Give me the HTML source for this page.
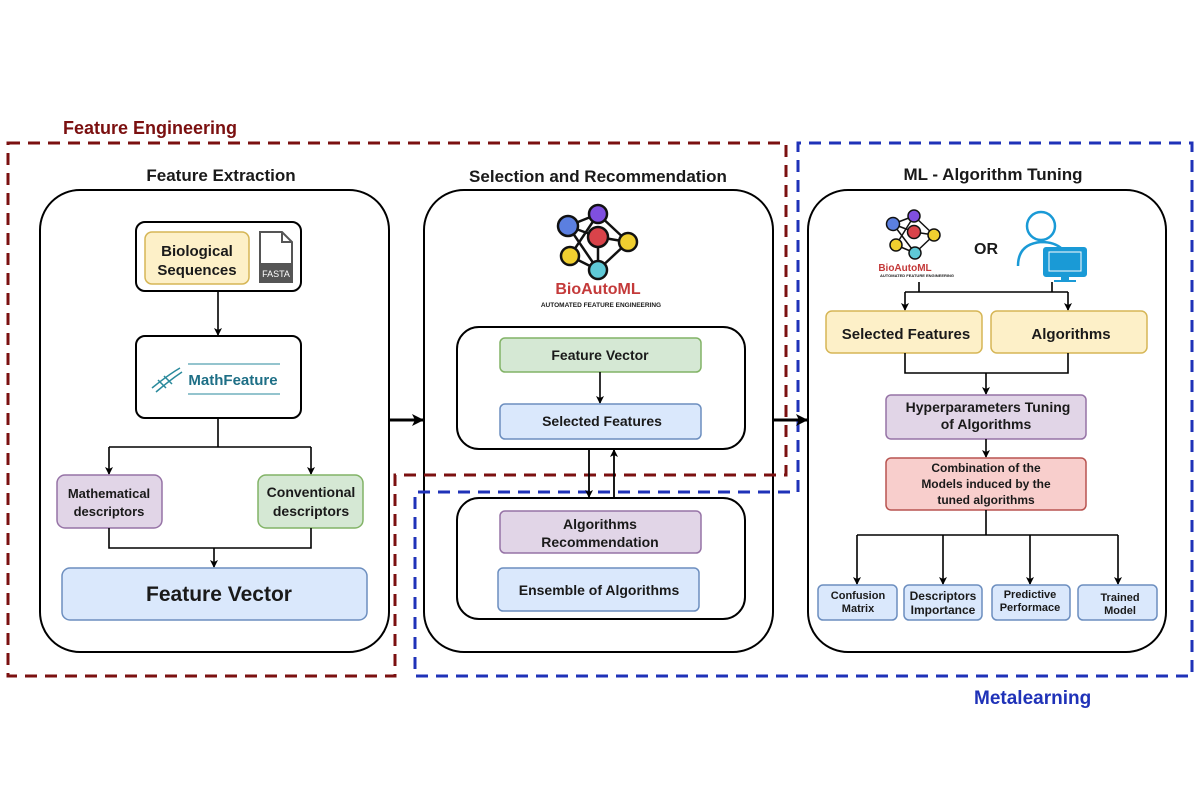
<!DOCTYPE html>
<html><head><meta charset="utf-8"><style>
html,body{margin:0;padding:0;background:#fff;width:1200px;height:800px;overflow:hidden}
text{font-family:"Liberation Sans",sans-serif;font-weight:bold;fill:#1a1a1a}
</style></head><body>
<svg width="1200" height="800" viewBox="0 0 1200 800" xmlns="http://www.w3.org/2000/svg">
<defs>
<marker id="a" markerWidth="8" markerHeight="8" refX="7" refY="4" orient="auto" markerUnits="userSpaceOnUse"><path d="M0,0 L8,4 L0,8 L2,4 z" fill="#000"/></marker>
<marker id="b" markerWidth="12" markerHeight="12" refX="11" refY="6" orient="auto" markerUnits="userSpaceOnUse"><path d="M0,0 L12,6 L0,12 L3,6 z" fill="#000"/></marker>
</defs>
<!-- panels -->
<g fill="#fff" stroke="#000" stroke-width="2">
<rect x="40" y="190" width="349" height="462" rx="40"/>
<rect x="424" y="190" width="349" height="462" rx="40"/>
<rect x="808" y="190" width="358" height="462" rx="40"/>
</g>
<!-- dashed regions -->
<path d="M8,143 H786 V475 H395 V676 H8 Z" fill="none" stroke="#7b1010" stroke-width="3" stroke-dasharray="12,8"/>
<path d="M798,492 V143 H1192 V676 H415 V492 Z" fill="none" stroke="#1f32b8" stroke-width="3" stroke-dasharray="12,8"/>
<text x="63" y="134" font-size="18" style="fill:#7b1010">Feature Engineering</text>
<text x="974" y="704" font-size="19" style="fill:#1f32b8">Metalearning</text>
<text x="221" y="181" font-size="17" text-anchor="middle">Feature Extraction</text>
<text x="598" y="182" font-size="17" text-anchor="middle">Selection and Recommendation</text>
<text x="993" y="180" font-size="17" text-anchor="middle">ML - Algorithm Tuning</text>
<!-- panel arrows -->
<line x1="389" y1="420" x2="423" y2="420" stroke="#000" stroke-width="3" marker-end="url(#b)"/>
<line x1="773" y1="420" x2="807" y2="420" stroke="#000" stroke-width="3" marker-end="url(#b)"/>
<!-- left panel -->
<rect x="136" y="222" width="165" height="69" rx="9" fill="#fff" stroke="#000" stroke-width="2"/>
<rect x="145" y="232" width="104" height="52" rx="7" fill="#fdf0c8" stroke="#d6b656" stroke-width="1.5"/>
<text x="197" y="256" font-size="15" text-anchor="middle">Biological</text>
<text x="197" y="275" font-size="15" text-anchor="middle">Sequences</text>
<path d="M260,232 H282 L292,242 V282 H260 Z" fill="#fff" stroke="#555" stroke-width="2"/>
<path d="M282,232 V242 H292" fill="none" stroke="#555" stroke-width="2"/>
<rect x="260" y="263" width="32" height="19" fill="#555"/>
<text x="276" y="277" font-size="9" text-anchor="middle" style="fill:#fff;font-weight:normal">FASTA</text>
<line x1="218" y1="291" x2="218" y2="335" stroke="#000" stroke-width="1.6" marker-end="url(#a)"/>
<rect x="136" y="336" width="165" height="82" rx="9" fill="#fff" stroke="#000" stroke-width="2"/>
<line x1="188" y1="364" x2="280" y2="364" stroke="#2a8a9c" stroke-width="1"/>
<line x1="188" y1="394" x2="280" y2="394" stroke="#2a8a9c" stroke-width="1"/>
<path d="M152,388 Q168,375 180,368 M156,392 Q170,380 182,372 M158,380 L166,388 M164,376 L172,384" stroke="#2a8a9c" stroke-width="1.5" fill="none"/>
<text x="233" y="385" font-size="15" text-anchor="middle" style="fill:#1e6f86">MathFeature</text>
<path d="M218,418 V447 M109,447 H311" stroke="#000" stroke-width="1.6" fill="none"/>
<line x1="109" y1="447" x2="109" y2="474" stroke="#000" stroke-width="1.6" marker-end="url(#a)"/>
<line x1="311" y1="447" x2="311" y2="474" stroke="#000" stroke-width="1.6" marker-end="url(#a)"/>
<rect x="57" y="475" width="105" height="53" rx="8" fill="#e1d5e7" stroke="#9673a6" stroke-width="1.5"/>
<text x="109" y="498" font-size="13" text-anchor="middle">Mathematical</text>
<text x="109" y="516" font-size="13" text-anchor="middle">descriptors</text>
<rect x="258" y="475" width="105" height="53" rx="8" fill="#d5e8d4" stroke="#82b366" stroke-width="1.5"/>
<text x="311" y="497" font-size="14" text-anchor="middle">Conventional</text>
<text x="311" y="516" font-size="14" text-anchor="middle">descriptors</text>
<path d="M109,528 V548 H311 V528" stroke="#000" stroke-width="1.6" fill="none"/>
<line x1="214" y1="548" x2="214" y2="567" stroke="#000" stroke-width="1.6" marker-end="url(#a)"/>
<rect x="62" y="568" width="305" height="52" rx="8" fill="#dae8fc" stroke="#6c8ebf" stroke-width="1.5"/>
<text x="219" y="601" font-size="21" text-anchor="middle">Feature Vector</text>
<!-- middle logo -->
<g stroke="#111" stroke-width="2.5">
<line x1="568" y1="226" x2="598" y2="214"/><line x1="568" y1="226" x2="598" y2="237"/><line x1="568" y1="226" x2="598" y2="270"/>
<line x1="598" y1="214" x2="628" y2="242"/><line x1="598" y1="214" x2="570" y2="256"/><line x1="598" y1="237" x2="628" y2="242"/>
<line x1="598" y1="237" x2="598" y2="270"/><line x1="570" y1="256" x2="598" y2="270"/><line x1="628" y1="242" x2="598" y2="270"/>
<circle cx="568" cy="226" r="10" fill="#5b7fe0"/><circle cx="598" cy="214" r="9" fill="#7f4fe0"/>
<circle cx="598" cy="237" r="10" fill="#d9434a"/><circle cx="628" cy="242" r="9" fill="#f0cf30"/>
<circle cx="570" cy="256" r="9" fill="#f0cf30"/><circle cx="598" cy="270" r="9" fill="#5fc9d6"/>
</g>
<text x="598" y="294" font-size="16" text-anchor="middle" style="fill:#c43a3a">BioAutoML</text>
<text x="601" y="307" font-size="6.5" text-anchor="middle">AUTOMATED FEATURE ENGINEERING</text>
<rect x="457" y="327" width="288" height="122" rx="22" fill="#fff" stroke="#000" stroke-width="2"/>
<rect x="500" y="338" width="201" height="34" rx="5" fill="#d5e8d4" stroke="#82b366" stroke-width="1.5"/>
<text x="600" y="360" font-size="14" text-anchor="middle">Feature Vector</text>
<line x1="600" y1="372" x2="600" y2="403" stroke="#000" stroke-width="1.6" marker-end="url(#a)"/>
<rect x="500" y="404" width="201" height="35" rx="5" fill="#dae8fc" stroke="#6c8ebf" stroke-width="1.5"/>
<text x="602" y="426" font-size="14" text-anchor="middle">Selected Features</text>
<line x1="589" y1="449" x2="589" y2="497" stroke="#000" stroke-width="1.8" marker-end="url(#a)"/>
<line x1="614" y1="497" x2="614" y2="450" stroke="#000" stroke-width="1.8" marker-end="url(#a)"/>
<rect x="457" y="498" width="288" height="121" rx="22" fill="#fff" stroke="#000" stroke-width="2"/>
<rect x="500" y="511" width="201" height="42" rx="5" fill="#e1d5e7" stroke="#9673a6" stroke-width="1.5"/>
<text x="600" y="529" font-size="14" text-anchor="middle">Algorithms</text>
<text x="600" y="547" font-size="14" text-anchor="middle">Recommendation</text>
<rect x="498" y="568" width="201" height="43" rx="5" fill="#dae8fc" stroke="#6c8ebf" stroke-width="1.5"/>
<text x="599" y="595" font-size="14" text-anchor="middle">Ensemble of Algorithms</text>
<!-- right logo -->
<g stroke="#111" stroke-width="1.5">
<line x1="893" y1="224" x2="914" y2="216"/><line x1="893" y1="224" x2="914" y2="232"/><line x1="893" y1="224" x2="915" y2="253"/>
<line x1="914" y1="216" x2="934" y2="235"/><line x1="914" y1="216" x2="896" y2="245"/><line x1="914" y1="232" x2="934" y2="235"/>
<line x1="896" y1="245" x2="915" y2="253"/><line x1="934" y1="235" x2="915" y2="253"/>
<circle cx="893" cy="224" r="6.5" fill="#5b7fe0"/><circle cx="914" cy="216" r="6" fill="#7f4fe0"/>
<circle cx="914" cy="232" r="6.5" fill="#d9434a"/><circle cx="934" cy="235" r="6" fill="#f0cf30"/>
<circle cx="896" cy="245" r="6" fill="#f0cf30"/><circle cx="915" cy="253" r="6" fill="#5fc9d6"/>
</g>
<text x="905" y="271" font-size="10" text-anchor="middle" style="fill:#c43a3a">BioAutoML</text>
<text x="917" y="277" font-size="4" text-anchor="middle">AUTOMATED FEATURE ENGINEERING</text>
<text x="986" y="254" font-size="16" text-anchor="middle">OR</text>
<circle cx="1041" cy="226" r="14" fill="none" stroke="#1a9ad6" stroke-width="2.5"/>
<path d="M1018,266 Q1018,244 1041,242 Q1055,242 1062,249" fill="none" stroke="#1a9ad6" stroke-width="2.5"/>
<rect x="1044" y="248" width="42" height="28" rx="2" fill="#1a9ad6" stroke="#1a9ad6" stroke-width="2"/>
<rect x="1049" y="252" width="32" height="19" fill="#1a9ad6" stroke="#fff" stroke-width="1"/>
<rect x="1061" y="276" width="8" height="4" fill="#1a9ad6"/><rect x="1054" y="280" width="22" height="2" fill="#1a9ad6"/>
<path d="M919,282 V292 M1052,282 V292 M905,292 H1068" stroke="#000" stroke-width="1.6" fill="none"/>
<line x1="905" y1="292" x2="905" y2="310" stroke="#000" stroke-width="1.6" marker-end="url(#a)"/>
<line x1="1068" y1="292" x2="1068" y2="310" stroke="#000" stroke-width="1.6" marker-end="url(#a)"/>
<rect x="826" y="311" width="156" height="42" rx="6" fill="#fdf0c8" stroke="#d6b656" stroke-width="1.5"/>
<text x="906" y="339" font-size="15" text-anchor="middle">Selected Features</text>
<rect x="991" y="311" width="156" height="42" rx="6" fill="#fdf0c8" stroke="#d6b656" stroke-width="1.5"/>
<text x="1071" y="339" font-size="15" text-anchor="middle">Algorithms</text>
<path d="M905,353 V373 H1068 V353" stroke="#000" stroke-width="1.6" fill="none"/>
<line x1="986" y1="373" x2="986" y2="394" stroke="#000" stroke-width="1.6" marker-end="url(#a)"/>
<rect x="886" y="395" width="200" height="44" rx="5" fill="#e1d5e7" stroke="#9673a6" stroke-width="1.5"/>
<text x="988" y="412" font-size="14" text-anchor="middle">Hyperparameters Tuning</text>
<text x="986" y="429" font-size="14" text-anchor="middle">of Algorithms</text>
<line x1="986" y1="439" x2="986" y2="457" stroke="#000" stroke-width="1.6" marker-end="url(#a)"/>
<rect x="886" y="458" width="200" height="52" rx="5" fill="#f8cecc" stroke="#b85450" stroke-width="1.5"/>
<text x="986" y="472" font-size="12" text-anchor="middle">Combination of the</text>
<text x="986" y="488" font-size="12" text-anchor="middle">Models induced by the</text>
<text x="986" y="504" font-size="12" text-anchor="middle">tuned algorithms</text>
<path d="M986,510 V535 M857,535 H1118" stroke="#000" stroke-width="1.6" fill="none"/>
<g stroke="#000" stroke-width="1.6">
<line x1="857" y1="535" x2="857" y2="584" marker-end="url(#a)"/>
<line x1="943" y1="535" x2="943" y2="584" marker-end="url(#a)"/>
<line x1="1030" y1="535" x2="1030" y2="584" marker-end="url(#a)"/>
<line x1="1118" y1="535" x2="1118" y2="584" marker-end="url(#a)"/>
</g>
<g fill="#dae8fc" stroke="#6c8ebf" stroke-width="1.5">
<rect x="818" y="585" width="79" height="35" rx="5"/><rect x="904" y="585" width="78" height="35" rx="5"/>
<rect x="992" y="585" width="78" height="35" rx="5"/><rect x="1078" y="585" width="79" height="35" rx="5"/>
</g>
<g font-size="11" text-anchor="middle">
<text x="858" y="599">Confusion</text><text x="858" y="612">Matrix</text>
<text x="943" y="600" font-size="12">Descriptors</text><text x="943" y="614" font-size="12">Importance</text>
<text x="1030" y="598">Predictive</text><text x="1030" y="611">Performace</text>
<text x="1120" y="601">Trained</text><text x="1120" y="614">Model</text>
</g>
</svg>
</body></html>
